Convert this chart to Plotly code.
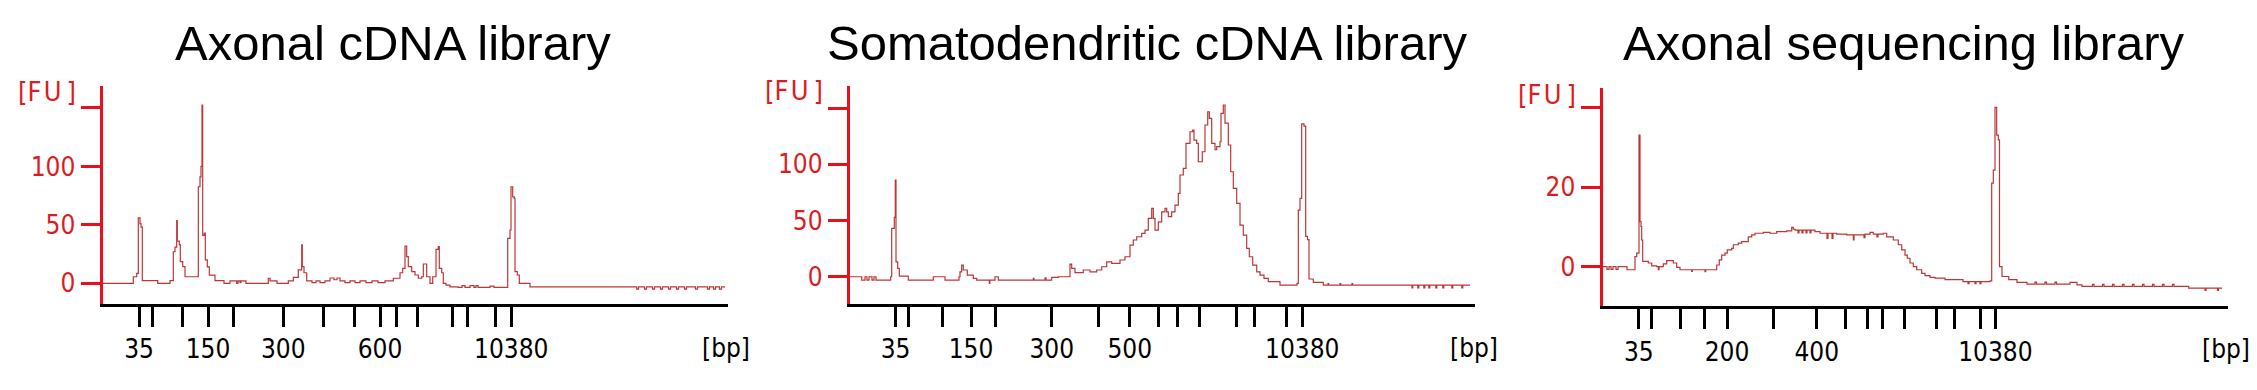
import plotly.graph_objects as go

W, H = 2257, 390

titles = ["Axonal cDNA library", "Somatodendritic cDNA library", "Axonal sequencing library"]

# Bioanalyzer High Sensitivity ladder (bp) and its migration time (s) in each run
ladder_bp = [35, 50, 100, 150, 200, 300, 400, 500, 600, 700, 1000, 2000, 3000, 7000, 10380]
ladder_time_1 = [27.3, 29.94, 36.08, 41.1, 46.14, 56.14, 64.22, 70.46, 75.5, 78.8, 82.9, 89.9, 93.0, 98.54, 101.74]
ladder_time_2 = [29.16, 31.64, 38.54, 44.24, 49.2, 60.38, 69.74, 76.0, 81.64, 85.44, 89.84, 97.3, 101.02, 107.28, 110.5]
ladder_time_3 = [27.26, 29.8, 35.5, 40.36, 44.9, 54.28, 62.84, 68.56, 73.06, 75.9, 80.36, 86.72, 90.46, 95.56, 98.58]
labeled_bp_1 = [35, 150, 300, 600, 10380]
labeled_bp_2 = [35, 150, 300, 500, 10380]
labeled_bp_3 = [35, 200, 400, 10380]

fu_ticks_1 = [0, 50, 100, 150]
fu_labels_1 = ["0", "50", "100", ""]
fu_ticks_2 = [0, 50, 100, 150]
fu_labels_2 = ["0", "50", "100", ""]
fu_ticks_3 = [0, 20, 40]
fu_labels_3 = ["0", "20", ""]

# Electropherogram 1: Axonal cDNA library  (time s, FU)
time_1 = [20, 26.16, 26.84, 27.16, 27.5, 27.7, 27.96, 31.04, 33.5, 34.16, 34.5, 34.84, 34.96, 35.36, 35.56,
          36.04, 36.5, 39.16, 39.5, 39.7, 39.9, 40.04, 40.36, 40.56, 40.96, 41.36, 42.5, 44.3, 45.5, 46.84,
          47.1, 47.5, 47.7, 48.7, 53.16, 53.5, 54.9, 57.16, 58.16, 59.16, 59.84, 59.96, 60.3, 60.84, 61.9,
          62.7, 63.5, 64.5, 65.5, 66.3, 66.9, 67.5, 68.5, 69.5, 70.5, 71.5, 72.7, 73.9, 75.1, 76.5,
          78.16, 79.5, 80.04, 80.5, 80.84, 81.16, 81.84, 82.5, 83.16, 83.84, 84.16, 84.84, 85.5, 86.04, 86.7,
          87.16, 87.36, 87.84, 88.16, 88.7, 89.5, 91.1, 91.9, 92.5, 93.5, 94.3, 94.7, 95.1, 97.5, 98.3,
          101.04, 101.5, 101.7, 102.04, 102.36, 102.5, 102.96, 103.36, 105.5, 126.84, 127.2, 128.4, 128.8, 130.0, 130.4,
          131.6, 132.0, 133.2, 133.6, 134.8, 135.2, 136.4, 136.8, 138.6, 139.0, 141.0, 141.4, 142.2, 142.6, 143.4,
          143.8, 144.5]
fu_1 = [0, 5.6, 8.5, 56, 51, 48, 2.2, 0, 2.2, 27, 31, 53.6, 36, 33, 18.5,
        14.2, 5.6, 82.6, 91, 100, 152.5, 41, 43, 20, 14, 7, 2.2, 0, 2, 0,
        2, 0.5, 2, 0, 4.3, 2, 0, 2, 5, 11.4, 32.8, 14.2, 9, 2, 0.5,
        2, 0.5, 2, 4.5, 3, 4.5, 2, 0.5, 2, 0.5, 2, 0.5, 2, 0.5, 2,
        4.3, 9, 12.8, 31.9, 22.8, 14.2, 9.9, 7.1, 4.3, 5.6, 16.5, 5.6, 0, 5.6, 29,
        31.3, 12.8, 9, 0, -1.5, -3, -3.5, -2, -3.5, -2, -3.5, -2, -3.5, -2.5, -3.5,
        38.5, 45.6, 82.6, 74, 72.7, 9.9, 7.1, 0, -3, -5, -3, -5, -3, -5, -3,
        -5, -3, -5, -3, -5, -3, -5, -3, -5, -3, -5, -3, -5, -3, -5,
        -3, -3]

# Electropherogram 2: Somatodendritic cDNA library
time_2 = [20, 22.38, 23.04, 23.44, 23.84, 24.44, 24.84, 25.24, 28.18, 28.38, 28.9, 29.1, 29.24, 29.58, 29.9,
          31.7, 36.7, 39.04, 41.84, 42.04, 42.38, 42.7, 43.5, 44.7, 45.38, 47.9, 48.0, 49.04, 49.7, 56.7,
          56.84, 59.04, 59.24, 60.38, 61.7, 63.38, 64.04, 64.38, 65.04, 66.7, 68.04, 69.38, 70.38, 71.38, 72.38,
          74.04, 75.04, 76.04, 76.7, 77.38, 78.38, 79.04, 79.7, 80.38, 80.7, 81.04, 81.7, 82.38, 83.04, 83.38,
          83.7, 84.38, 85.04, 85.7, 86.04, 86.7, 87.24, 88.04, 88.58, 88.84, 89.38, 89.7, 90.5, 91.04, 91.58,
          91.9, 92.38, 93.04, 93.38, 94.04, 94.24, 94.7, 95.04, 95.7, 96.18, 96.7, 97.38, 98.04, 98.7, 99.38,
          99.9, 100.58, 101.38, 102.04, 102.84, 103.7, 106.04, 109.44, 109.7, 110.04, 110.38, 110.84, 111.18, 111.54, 111.84,
          112.7, 114.7, 115.64, 115.78, 118.04, 118.18, 120.44, 120.58, 132.44, 132.6, 133.6, 133.8, 134.8, 135.0, 135.8,
          136.0, 137.2, 137.4, 138.6, 138.8, 140.4, 140.6, 142.4, 142.6, 144.04]
fu_2 = [0, -3, 0, -3, 0, -3, 0, -3, 0, 43, 52.8, 86, 13.3, 7.5, 0.6,
        -3, 0, -3, 0, 4.4, 10.4, 6, 1.5, -1.4, -3, -6, -3, 0, -3, -1.5,
        -3, -1, -3, -0.5, 0, 0, 11.3, 7.5, 3.6, 6, 4.4, 6, 8.9, 13.3, 11.9,
        14.9, 17.8, 28.2, 32.7, 35.6, 38.6, 41.5, 52, 60.9, 52, 41.5, 48.9, 57.8, 60.9, 57.8,
        53.4, 57.8, 63.8, 74.2, 90.5, 96.4, 118.7, 129, 130.5, 121.6, 118.7, 102.3, 111.2, 135, 146.8,
        140.9, 118.7, 113, 115.7, 120.1, 145.4, 152.8, 136.7, 117.2, 93.4, 78.6, 65.3, 46, 37.1, 25.3,
        17.8, 10.4, 4.4, 1.5, -1.4, -4.4, -7.4, -5.9, 59.3, 69.8, 136, 134, 36, 33, -2,
        -5, -7.5, -6, -7.5, -6, -7.5, -6, -7.5, -10, -7.5, -10, -7.5, -10, -7.5, -10,
        -7.5, -10, -7.5, -10, -7.5, -10, -7.5, -10, -7.5, -7.5]

# Electropherogram 3: Axonal sequencing library
time_3 = [20, 20.9, 21.3, 21.7, 22.1, 22.7, 23.1, 24.9, 26.5, 26.84, 27.3, 27.5, 27.7, 27.84, 28.04,
          29.16, 29.84, 30.84, 31.16, 31.3, 32.16, 32.84, 34.16, 34.84, 35.5, 37.84, 37.96, 40.5, 40.64, 42.84,
          43.36, 43.84, 44.5, 44.96, 45.84, 46.16, 47.16, 47.84, 49.16, 49.84, 50.5, 52.16, 53.5, 54.84, 56.84,
          57.84, 58.16, 58.5, 59.1, 59.3, 59.9, 60.1, 60.7, 60.9, 61.5, 61.7, 62.5, 63.5, 64.9, 65.1,
          65.9, 66.1, 66.84, 68.84, 70.16, 70.3, 71.5, 72.3, 72.5, 73.5, 74.16, 74.9, 75.1, 76.16, 76.84,
          78.16, 79.16, 79.84, 80.5, 80.96, 81.5, 82.16, 82.84, 83.84, 84.5, 85.5, 86.5, 88.5, 92.1, 93.1,
          93.3, 94.5, 94.7, 95.5, 95.7, 97.5, 97.84, 98.16, 98.5, 98.84, 99.16, 99.4, 99.9, 101.24, 102.9,
          104.9, 106.5, 106.8, 108.5, 108.8, 110.5, 110.8, 113.5, 114.9, 115.9, 118.0, 118.3, 120.0, 120.3, 122.0,
          122.3, 124.0, 124.3, 126.0, 126.3, 128.0, 128.3, 130.0, 130.3, 132.0, 132.3, 134.0, 134.3, 136.9, 137.24,
          140.5, 140.7, 143.0, 143.2, 143.9]
fu_3 = [0, -0.7, 0, -0.7, 0, -0.7, 0, -0.8, 2.5, 3.4, 33.1, 11.3, 10.1, 6.7, 1.3,
        0.9, 0.2, 0, -0.8, 0, 0.7, 1.5, 0.9, -0.2, -0.8, -1.2, -0.8, -1.3, -0.8, 0.4,
        1.7, 2.9, 3.4, 4.2, 4.6, 5.5, 5.9, 6.3, 7.5, 8.0, 8.4, 8.6, 8.4, 8.8, 9.0,
        9.9, 9.4, 9.2, 8.5, 9.2, 8.5, 9.2, 8.5, 9.2, 8.5, 9.2, 8.8, 8.4, 7.1, 8.4,
        7.1, 8.4, 8.2, 8.0, 6.7, 8.0, 8.0, 7.3, 8.2, 8.6, 8.2, 7.5, 8.2, 8.4, 7.5,
        6.7, 5.5, 4.2, 2.9, 2.1, 0.9, 0, -0.8, -1.7, -2.3, -2.7, -2.9, -3.3, -3.8, -4.3,
        -3.8, -4.3, -3.8, -4.3, -3.8, -3.6, 21, 24.3, 40.1, 33.1, 31.9, 0, -2.5, -3.3, -4.0,
        -4.4, -3.9, -4.4, -3.9, -4.4, -3.9, -4.4, -4.0, -4.6, -5.0, -4.5, -5.0, -4.5, -5.0, -4.5,
        -5.0, -4.5, -5.0, -4.5, -5.0, -4.5, -5.0, -4.5, -5.0, -4.5, -5.0, -4.5, -5.0, -5.0, -5.4,
        -6.0, -5.4, -6.0, -5.4, -5.4]

# ---------------- layout constants (pixels) ----------------
TRACE = "#bc3636"
AXRED = "#e8101a"
LABRED = "#dc1c22"
TICKFONT = "DejaVu Sans Condensed, DejaVu Sans, sans-serif"
TITLEFONT = "Liberation Sans, Arial, sans-serif"

panels = [
    dict(time=time_1, fu=fu_1, lt=ladder_time_1, lab=labeled_bp_1, yt=fu_ticks_1, yl=fu_labels_1,
         left=102.5, top=86, bottom=303.5, yrange=[-17.3, 168.8], title_x=393, fu_xy=(47, 91), bp_xy=(726, 348)),
    dict(time=time_2, fu=fu_2, lt=ladder_time_2, lab=labeled_bp_2, yt=fu_ticks_2, yl=fu_labels_2,
         left=849.8, top=86, bottom=303.5, yrange=[-23.8, 169.7], title_x=1147, fu_xy=(794, 90), bp_xy=(1474, 348)),
    dict(time=time_3, fu=fu_3, lt=ladder_time_3, lab=labeled_bp_3, yt=fu_ticks_3, yl=fu_labels_3,
         left=1602.5, top=88.3, bottom=306.3, yrange=[-10.0, 44.9], title_x=1904, fu_xy=(1547, 94.5), bp_xy=(2226, 349)),
]
PLOT_W = 625.5
XRANGE = [20, 145.1]

fig = go.Figure()
annotations = []
layout = {}
for i, p in enumerate(panels, start=1):
    sfx = "" if i == 1 else str(i)
    fig.add_trace(go.Scatter(x=p["time"], y=p["fu"], mode="lines", line=dict(color=TRACE, width=1.2, shape="hv"),
                             xaxis="x" + sfx, yaxis="y" + sfx, showlegend=False, hoverinfo="skip"))
    ticktext = [str(b) if b in p["lab"] else "" for b in ladder_bp]
    layout["xaxis" + sfx] = dict(
        domain=[p["left"] / W, (p["left"] + PLOT_W) / W], anchor="y" + sfx, range=XRANGE,
        showline=True, linecolor="black", linewidth=3, showgrid=False, zeroline=False,
        ticks="outside", ticklen=20, tickwidth=3, tickcolor="black",
        tickmode="array", tickvals=p["lt"], ticktext=ticktext,
        tickfont=dict(family=TICKFONT, size=26, color="black"))
    layout["yaxis" + sfx] = dict(
        domain=[1 - p["bottom"] / H, 1 - p["top"] / H], anchor="x" + sfx, range=p["yrange"],
        showline=True, linecolor=AXRED, linewidth=3, showgrid=False, zeroline=False,
        ticks="outside", ticklen=19, tickwidth=3, tickcolor=AXRED,
        tickmode="array", tickvals=p["yt"], ticktext=p["yl"],
        tickfont=dict(family=TICKFONT, size=26, color=LABRED))
    annotations.append(dict(text=titles[i - 1], x=p["title_x"] / W, y=1 - 43 / H, xref="paper", yref="paper",
                            xanchor="center", yanchor="middle", showarrow=False,
                            font=dict(family=TITLEFONT, size=49, color="black")))
    annotations.append(dict(text="[F\u200aU\u2009]", x=p["fu_xy"][0] / W, y=1 - p["fu_xy"][1] / H,
                            xref="paper", yref="paper",
                            xanchor="center", yanchor="middle", showarrow=False,
                            font=dict(family=TICKFONT, size=27, color=LABRED)))
    annotations.append(dict(text="[bp]", x=p["bp_xy"][0] / W, y=1 - p["bp_xy"][1] / H, xref="paper", yref="paper",
                            xanchor="center", yanchor="middle", showarrow=False,
                            font=dict(family=TICKFONT, size=26, color="black")))

fig.update_layout(width=W, height=H, margin=dict(l=0, r=0, t=0, b=0, autoexpand=False),
                  paper_bgcolor="white", plot_bgcolor="white", annotations=annotations, **layout)

fig.write_html("out.html", config={"displayModeBar": False},
               post_script="document.body.style.margin='0px';document.body.style.overflow='hidden';")
